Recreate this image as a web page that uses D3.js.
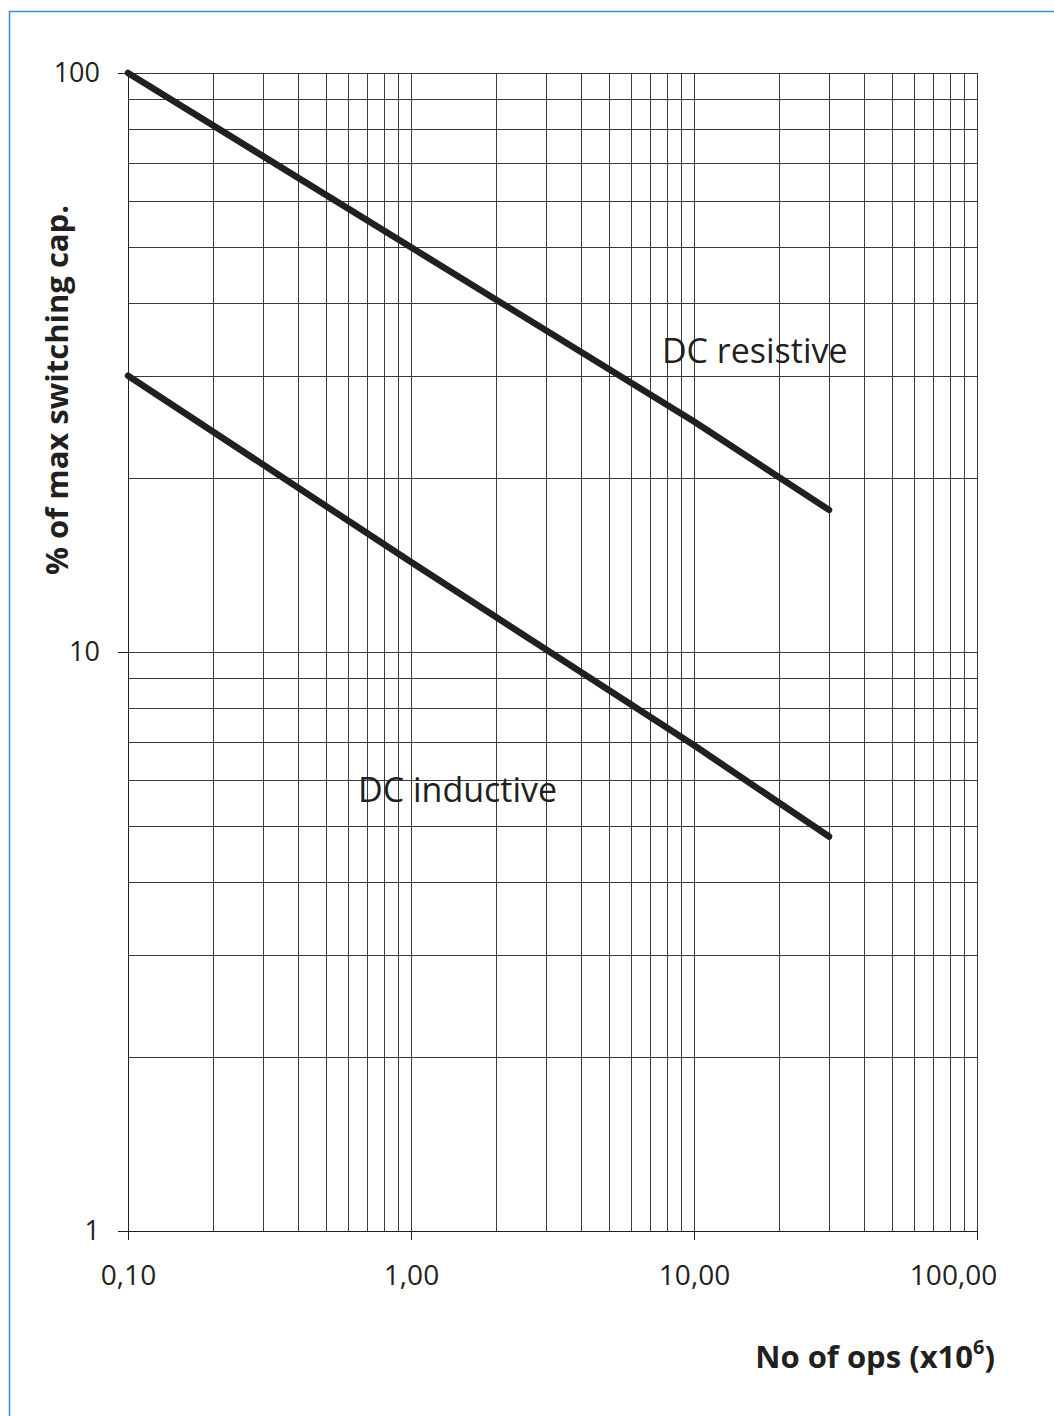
<!DOCTYPE html>
<meta charset="utf-8">
<style>
  body { margin: 0; background: #fff; }
  svg text { font-family: "Open Sans", "Noto Sans", sans-serif; fill: #231f20; }
  .grid line { stroke: #3a3a3a; stroke-width: 1; shape-rendering: crispEdges; }
  .axis path, .axis line { stroke: #231f20; stroke-width: 1; shape-rendering: crispEdges; }
</style>
<body>
<script src="https://d3js.org/d3.v7.min.js"></script>
<script>
// ---- data ----
const xTickValues = [0.1, 1, 10, 100];
const yTickValues = [1, 10, 100];
const resistiveOps = [0.1, 1, 10, 30];
const resistivePct = [100, 50, 25, 17.6];
const inductiveOps = [0.1, 1, 10, 30];
const inductivePct = [30, 14.3, 6.9, 4.8];
const seriesNames = ["DC resistive", "DC inductive"];
const labelOps = [7.7, 0.65];
const labelPct = [31.6, 5.5];

const W = 1054, H = 1416;
const plot = { left: 128, right: 977, top: 73, bottom: 1231 };

const svg = d3.select("body").append("svg")
  .attr("width", W).attr("height", H);

// blue frame (only top and left edges are visible)
svg.append("rect")
  .attr("x", 9.5).attr("y", 11.5)
  .attr("width", W + 20).attr("height", H + 20)
  .attr("fill", "none")
  .attr("stroke", "#3b8fd1")
  .attr("stroke-width", 1.5);

const x = d3.scaleLog().domain([0.1, 100]).range([plot.left, plot.right]);
const y = d3.scaleLog().domain([1, 100]).range([plot.bottom, plot.top]);

// grid lines 1..9 per decade
const grid = svg.append("g").attr("class", "grid");
grid.selectAll("line.v").data(x.ticks()).join("line")
  .attr("class", "v")
  .attr("x1", d => Math.round(x(d)) + 0.5).attr("x2", d => Math.round(x(d)) + 0.5)
  .attr("y1", plot.top).attr("y2", plot.bottom);
grid.selectAll("line.h").data(y.ticks()).join("line")
  .attr("class", "h")
  .attr("y1", d => Math.round(y(d)) + 0.5).attr("y2", d => Math.round(y(d)) + 0.5)
  .attr("x1", plot.left).attr("x2", plot.right);

// axes
const comma = d3.formatLocale({ decimal: ",", thousands: ".", grouping: [3], currency: ["", ""] });

const xAxis = svg.append("g").attr("class", "axis")
  .attr("transform", `translate(0,${plot.bottom})`)
  .call(d3.axisBottom(x).tickValues(xTickValues).tickFormat(comma.format(".2f"))
    .tickSizeInner(9).tickSizeOuter(0).tickPadding(25));
xAxis.selectAll("text").style("font-size", "28px")
  .attr("dx", d => d === 100 ? -24 : 0);

const yAxis = svg.append("g").attr("class", "axis")
  .attr("transform", `translate(${plot.left},0)`)
  .call(d3.axisLeft(y).tickValues(yTickValues).tickFormat(d3.format("d"))
    .tickSizeInner(10).tickSizeOuter(0).tickPadding(18));
yAxis.selectAll("text").style("font-size", "27px");

// curves
const line = d3.line().x(d => x(d[0])).y(d => y(d[1]));
const curves = [
  d3.zip(resistiveOps, resistivePct),
  d3.zip(inductiveOps, inductivePct)
];
svg.append("g").selectAll("path").data(curves).join("path")
  .attr("d", line)
  .attr("fill", "none")
  .attr("stroke", "#231f20")
  .attr("stroke-width", 6.5)
  .attr("stroke-linecap", "round")
  .attr("stroke-linejoin", "round");

// curve labels
svg.append("g").selectAll("text").data(seriesNames).join("text")
  .attr("x", (d, i) => x(labelOps[i]))
  .attr("y", (d, i) => y(labelPct[i]))
  .style("font-size", "34px")
  .text(d => d);

// axis titles
svg.append("text")
  .attr("transform", "translate(68,390) rotate(-90)")
  .attr("text-anchor", "middle")
  .style("font-size", "31px")
  .style("font-weight", "bold")
  .text("% of max switching cap.");

const xt = svg.append("text")
  .attr("x", 995).attr("y", 1368)
  .attr("text-anchor", "end")
  .style("font-size", "31px")
  .style("font-weight", "bold");
xt.append("tspan").text("No of ops (x10");
xt.append("tspan").attr("dy", -14).style("font-size", "20px").text("6");
xt.append("tspan").attr("dy", 14).text(")");
</script>
</body>
